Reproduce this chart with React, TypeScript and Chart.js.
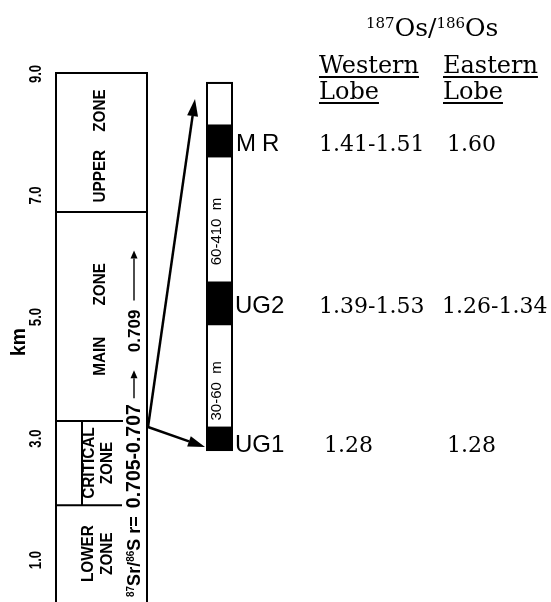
import React, { useEffect, useRef } from 'react';
import { Chart, registerables } from 'chart.js';

Chart.register(...registerables);

// ---------- data ----------
const kmTicks = [1, 3, 5, 7, 9];
const zoneWords = [['LOWER', 'ZONE'], ['CRITICAL', 'ZONE'], ['MAIN', 'ZONE'], ['UPPER', 'ZONE']];
const zoneBaseKm = [0.31, 1.9, 3.29, 6.73];
const zoneTopKm = [1.9, 3.29, 6.73, 9.0];
const layerNames = ['UG1', 'UG2', 'MR'];
const layerBase = [0, 34.1, 79.8];
const layerTop = [6.3, 45.8, 88.6];
const detailTop = 100;
const intervalLabels = ['30-60  m', '60-410  m'];
const westernLobe = ['1.28', '1.39-1.53', '1.41-1.51'];
const easternLobe = ['1.28', '1.26-1.34', '1.60'];
const srRange = '0.705-0.707';
const srUpper = '0.709';
const arrowOriginKm = 3.19;
const arrowTargets = [95.6, 0.8];

// ---------- layout ----------
const W = 551;
const H = 602;
const KM_MIN = 0.309;
const KM_MAX = 10.218;
const D_MIN = -41.4;
const D_MAX = 122.6;
const BOX_L = 56;
const BOX_R = 147;
const COL_L = 207;
const COL_W = 25;
const COL_X = COL_L + COL_W / 2;
const SANS = '"Liberation Sans", Arial, sans-serif';
const SERIF = '"DejaVu Serif", serif';

function rotText(ctx: CanvasRenderingContext2D, text: string, cx: number, cy: number, font: string, sx = 1) {
  ctx.save();
  ctx.translate(cx, cy);
  ctx.rotate(-Math.PI / 2);
  ctx.scale(sx, 1);
  ctx.font = font;
  ctx.textAlign = 'center';
  ctx.textBaseline = 'middle';
  ctx.fillText(text, 0, 0);
  ctx.restore();
}

function rotWords(ctx: CanvasRenderingContext2D, words: string[], cx: number, cy: number, font: string, gap: number, sx = 1) {
  ctx.save();
  ctx.translate(cx, cy);
  ctx.rotate(-Math.PI / 2);
  ctx.scale(sx, 1);
  ctx.font = font;
  ctx.textAlign = 'left';
  ctx.textBaseline = 'middle';
  const g = gap / sx;
  const ws = words.map((w) => ctx.measureText(w).width);
  const total = ws.reduce((a, b) => a + b, 0) + g * (words.length - 1);
  let cur = -total / 2;
  words.forEach((w, i) => {
    ctx.fillText(w, cur, 0);
    cur += ws[i] + g;
  });
  ctx.restore();
}

function arrow(ctx: CanvasRenderingContext2D, x1: number, y1: number, x2: number, y2: number, lw: number, hl: number, hw: number) {
  const a = Math.atan2(y2 - y1, x2 - x1);
  const bx = x2 - hl * Math.cos(a);
  const by = y2 - hl * Math.sin(a);
  ctx.lineWidth = lw;
  ctx.beginPath();
  ctx.moveTo(x1, y1);
  ctx.lineTo(bx, by);
  ctx.stroke();
  ctx.beginPath();
  ctx.moveTo(x2, y2);
  ctx.lineTo(bx + (hw / 2) * Math.sin(a), by - (hw / 2) * Math.cos(a));
  ctx.lineTo(bx - (hw / 2) * Math.sin(a), by + (hw / 2) * Math.cos(a));
  ctx.closePath();
  ctx.fill();
}

const drawPlugin = {
  id: 'bushveldColumn',
  afterDatasetsDraw(chart: any) {
    const ctx: CanvasRenderingContext2D = chart.ctx;
    const sx = chart.scales.x;
    const sy = chart.scales.y;
    const sd = chart.scales.yd;
    const X = (v: number) => sx.getPixelForValue(v);
    const Y = (v: number) => sy.getPixelForValue(v);
    const D = (v: number) => sd.getPixelForValue(v);
    const bottom = chart.chartArea.bottom;
    ctx.save();
    ctx.strokeStyle = '#000';
    ctx.fillStyle = '#000';
    ctx.lineCap = 'butt';
    const line = (x1: number, y1: number, x2: number, y2: number, lw = 2) => {
      ctx.lineWidth = lw;
      ctx.beginPath();
      ctx.moveTo(x1, y1);
      ctx.lineTo(x2, y2);
      ctx.stroke();
    };

    // --- main stratigraphic column ---
    const top = Y(zoneTopKm[3]) - 1;
    line(X(BOX_L), top - 1, X(BOX_L), bottom);
    line(X(BOX_R), top - 1, X(BOX_R), bottom);
    line(X(BOX_L) - 1, top, X(BOX_R) + 1, top);
    line(X(BOX_L), Y(zoneBaseKm[3]), X(BOX_R), Y(zoneBaseKm[3]));
    line(X(BOX_L), Y(zoneBaseKm[2]), X(123), Y(zoneBaseKm[2]));
    line(X(BOX_L), Y(zoneBaseKm[1]), X(122), Y(zoneBaseKm[1]));
    line(X(82), Y(zoneBaseKm[2]), X(82), Y(zoneBaseKm[1]));

    // km tick labels and title
    kmTicks.forEach((v) => rotText(ctx, v.toFixed(1), X(37), Y(v), `bold 16px ${SANS}`, 0.82));
    rotText(ctx, 'km', X(19), 342, `bold 21px ${SANS}`, 0.92);

    // zone labels
    const zoneFont = `bold 17px ${SANS}`;
    const zs = 0.9;
    const mid = (i: number) => (Y(zoneTopKm[i]) + Math.min(Y(zoneBaseKm[i]), bottom)) / 2;
    rotWords(ctx, zoneWords[3], X(100), mid(3) + 3, zoneFont, 18, zs);
    rotWords(ctx, zoneWords[2], X(100), mid(2) + 3, zoneFont, 31, zs);
    rotText(ctx, zoneWords[1][0], X(89), mid(1), zoneFont, zs);
    rotText(ctx, zoneWords[1][1], X(107), mid(1), zoneFont, zs);
    rotText(ctx, zoneWords[0][0], X(88), mid(0), zoneFont, zs);
    rotText(ctx, zoneWords[0][1], X(107), mid(0), zoneFont, zs);

    // Sr isotope annotation (vertical run)
    ctx.save();
    ctx.translate(X(134), 597);
    ctx.rotate(-Math.PI / 2);
    ctx.textAlign = 'left';
    ctx.textBaseline = 'alphabetic';
    const base = 6;
    let cur = 0;
    const txt = (t: string, size: number, dy = 0) => {
      ctx.font = `bold ${size}px ${SANS}`;
      ctx.fillText(t, cur, base + dy);
      cur += ctx.measureText(t).width;
    };
    const rarrow = (len: number) => {
      arrow(ctx, cur, 0, cur + len, 0, 1.4, 8, 7);
      cur += len;
    };
    txt('87', 10, -6);
    txt('Sr', 18);
    txt('/', 18);
    txt('86', 10, -6);
    txt('S r=', 18);
    cur += 8;
    txt(srRange, 19.5);
    cur += 6;
    rarrow(28);
    cur += 18;
    txt(srUpper, 17);
    cur += 9;
    rarrow(50);
    ctx.restore();

    // --- detail column ---
    ctx.lineWidth = 2;
    ctx.strokeRect(X(COL_L), D(detailTop), X(COL_L + COL_W) - X(COL_L), D(0) - D(detailTop));
    const intervalMid = (i: number) => (D(layerTop[i]) + D(layerBase[i + 1])) / 2;
    rotText(ctx, intervalLabels[0], X(217), intervalMid(0) + 15, `15px ${SANS}`);
    rotText(ctx, intervalLabels[1], X(217), intervalMid(1) + 12, `15px ${SANS}`);

    // connecting arrows
    arrow(ctx, X(BOX_R + 1), Y(arrowOriginKm), X(195), D(arrowTargets[0]), 2.5, 17, 11);
    arrow(ctx, X(BOX_R + 1), Y(arrowOriginKm), X(205), D(arrowTargets[1]), 2.5, 17, 11);

    // layer labels and Os values
    const rowOffset = [13.5, 9.5, 10];
    layerNames.forEach((n, i) => {
      const yb = D((layerBase[i] + layerTop[i]) / 2) + rowOffset[i];
      ctx.textAlign = 'left';
      ctx.textBaseline = 'alphabetic';
      ctx.font = `24px ${SANS}`;
      if (n === 'MR') {
        (ctx as any).letterSpacing = '6px';
        ctx.fillText(n, X(236), yb);
        (ctx as any).letterSpacing = '0px';
      } else {
        ctx.fillText(n, X(235), yb);
      }
      ctx.font = `22px ${SERIF}`;
      ctx.fillText(westernLobe[i], X(i === 0 ? 324 : 319), yb);
      ctx.fillText(easternLobe[i], X(easternLobe[i].length > 4 ? 442 : 447), yb);
    });

    // header
    ctx.textAlign = 'left';
    ctx.textBaseline = 'alphabetic';
    let hx = X(366);
    const hseg = (t: string, size: number, dy = 0) => {
      ctx.font = `${size}px ${SERIF}`;
      ctx.fillText(t, hx, 36 + dy);
      hx += ctx.measureText(t).width;
    };
    hseg('187', 15, -8);
    hseg('Os/', 25);
    hseg('186', 15, -8);
    hseg('Os', 25);

    const lobe = (t: string, x: number, yb: number) => {
      ctx.font = `24px ${SERIF}`;
      ctx.fillText(t, X(x), yb);
      const w = ctx.measureText(t).width;
      ctx.fillRect(X(x), yb + 3, w, 2);
    };
    lobe('Western', 319, 73);
    lobe('Lobe', 319, 99);
    lobe('Eastern', 443, 73);
    lobe('Lobe', 443, 99);

    ctx.restore();
  },
};

export default function App() {
  const ref = useRef<HTMLCanvasElement>(null);
  useEffect(() => {
    const canvas = ref.current!;
    const chart = new Chart(canvas, {
      type: 'bar',
      data: {
        datasets: [
          {
            label: 'Chromitite layers',
            data: layerNames.map((_, i) => ({ x: COL_X, y: [layerBase[i], layerTop[i]] })) as any,
            backgroundColor: '#000',
            borderWidth: 0,
            barThickness: COL_W,
            grouped: false,
            xAxisID: 'x',
            yAxisID: 'yd',
          } as any,
        ],
      },
      options: {
        responsive: false,
        maintainAspectRatio: false,
        animation: false,
        events: [],
        layout: { padding: 0 },
        plugins: { legend: { display: false }, tooltip: { enabled: false }, title: { display: false } },
        scales: {
          x: { type: 'linear', min: 0, max: W, display: false, offset: false },
          y: { type: 'linear', min: KM_MIN, max: KM_MAX, display: false },
          yd: { type: 'linear', min: D_MIN, max: D_MAX, display: false, position: 'right' },
        } as any,
      },
      plugins: [drawPlugin],
    });
    return () => chart.destroy();
  }, []);
  return (
    <div style={{ position: 'fixed', left: 0, top: 0, width: W, height: H, background: '#fff' }}>
      <canvas ref={ref} width={W} height={H} style={{ display: 'block' }} />
    </div>
  );
}
